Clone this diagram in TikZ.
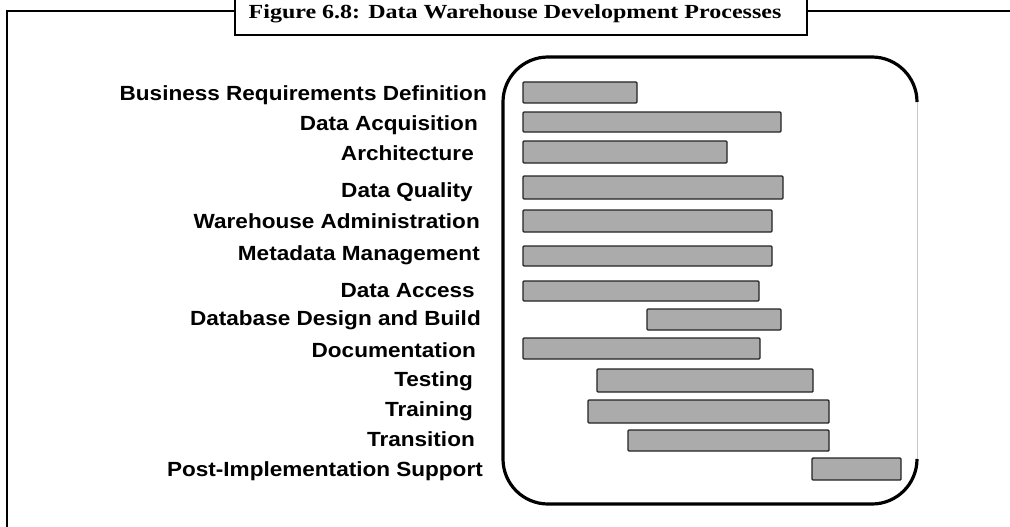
\documentclass[tikz,border=0pt]{standalone}
\usepackage{fontspec}
\setmainfont{Liberation Serif}
\newfontfamily\taskfont[FakeStretch=1.1]{Liberation Sans}
\newfontfamily\capfont[FakeStretch=1.2]{Liberation Serif}
\usetikzlibrary{positioning,calc}
\definecolor{cBar}{HTML}{ABABAB}
\definecolor{cEdge}{HTML}{232323}
\definecolor{cSide}{HTML}{C8C8C8}
\tikzset{
  frameline/.style={line width=2.2pt,black},
  titlebox/.style={draw=black,line width=2.2pt,fill=white,inner sep=0pt,
    minimum width=572pt,minimum height=40pt},
  panel/.style={line width=3.2pt,black,rounded corners=45pt},
  bar/.style={draw=cEdge,fill=cBar,line width=1.4pt,rounded corners=1pt},
  task/.style={anchor=base east,inner sep=0pt,font=\taskfont\bfseries\fontsize{20.5}{22}\selectfont},
}

\begin{document}
\begin{tikzpicture}[x=1pt,y=-1pt]
  \useasboundingbox (0,0) rectangle (1010,527);
  % outer frame and caption
  \draw[frameline] (235,11) -- (7,11) -- (7,535);
  \draw[frameline] (807,11) -- (1020,11);
  \node[titlebox] (title) at (521,15) {};
  \node[font=\capfont\bfseries\fontsize{20}{22}\selectfont,anchor=base,inner sep=0pt] (caption)
    at (515,19) {Figure 6.8: Data Warehouse Development Processes};
  % rounded panel, right side left faint
  \draw[panel] (917,102) -- (917,57) -- (503,57) -- (503,504) -- (917,504) -- (917,459);
  \draw[cSide,line width=0.8pt] (917,102) -- (917,459);
  % tasks: label, label end, baseline, bar start, bar end, bar top, bar bottom
  \foreach \lab/\lx/\ly/\ba/\bb/\bt/\bd [count=\i] in {
    {Business Requirements Definition}/487/100/523/637/82/103,
    {Data Acquisition}/478/130/523/781/112/132,
    {Architecture}/474/160/523/727/141/163,
    {Data Quality}/473/197/523/783/176/199,
    {Warehouse Administration}/480/228/523/772/210/232,
    {Metadata Management}/480/260/523/772/246/266,
    {Data Access}/475/297/523/759/281/301,
    {Database Design and Build}/481/325/647/781/309/330,
    {Documentation}/476/357/523/760/338/359,
    {Testing}/473/386/597/813/369/392,
    {Training}/473/416/588/829/400/423,
    {Transition}/475/446/628/829/430/451,
    {Post-Implementation Support}/483/476/812/901/458/480}{
    \node[task] (t\i) at (\lx,\ly) {\lab};
    \draw[bar] (\ba,\bt) rectangle (\bb,\bd);
  }
\end{tikzpicture}
\end{document}
